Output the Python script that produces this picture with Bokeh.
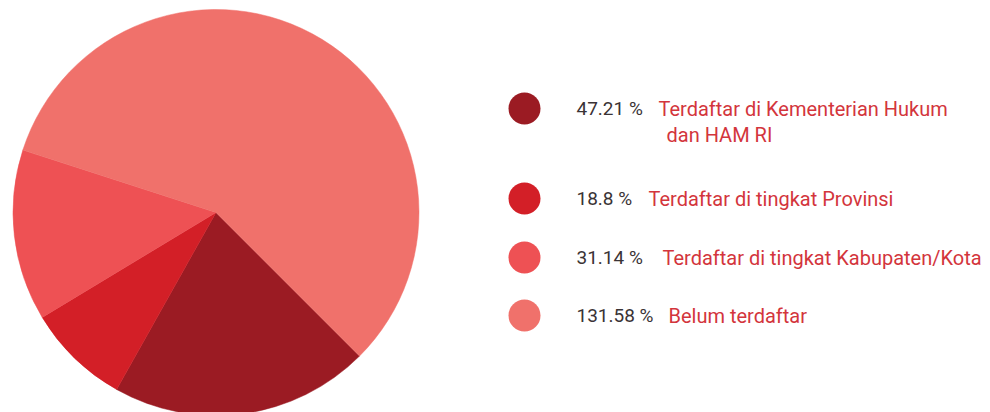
import math
from bokeh.plotting import figure
from bokeh.models import Range1d, ColumnDataSource
from bokeh.core.properties import value
from bokeh.embed import file_html
from bokeh.resources import INLINE

# ---- data ----
values = [47.21, 18.8, 31.14, 131.58]
value_labels = ["47.21 %", "18.8 %", "31.14 %", "131.58 %"]
names = ["Terdaftar di Kementerian Hukum", "Terdaftar di tingkat Provinsi",
         "Terdaftar di tingkat Kabupaten/Kota", "Belum terdaftar"]
name_line2 = ["dan HAM RI", "", "", ""]
colors = ["#9B1B23", "#D31F27", "#EE5154", "#F0716B"]

# ---- layout (page is drawn at 0,0) ----
W, H = 990, 412
def sx(x):
    return x
def sy(y):
    return H - y

cx, cy, R = sx(215.5), sy(212), 203
start_deg = -45.0

total = sum(values)
starts, ends = [], []
cum = 0.0
for v in values:
    a0 = start_deg - 360.0 * cum / total
    cum += v
    a1 = start_deg - 360.0 * cum / total
    starts.append(math.radians(a1))
    ends.append(math.radians(a0))

p = figure(width=W, height=H, x_range=Range1d(0, W), y_range=Range1d(0, H),
           output_backend="svg", toolbar_location=None, min_border=0)
p.axis.visible = False
p.grid.visible = False
p.outline_line_color = None
p.background_fill_color = "white"
p.border_fill_color = "white"

src = ColumnDataSource(dict(x=[cx] * len(values), y=[cy] * len(values),
                            start=starts, end=ends, color=colors))
p.wedge(x="x", y="y", radius=R, start_angle="start", end_angle="end",
        direction="anticlock", fill_color="color", line_color="color",
        line_width=0.5, source=src)

# legend
row_y = [sy(108), sy(198), sy(257), sy(315)]
label_x = [sx(658), sx(648), sx(662), sx(668)]
p.circle(x=[sx(524)] * 4, y=row_y, radius=16, radius_units="screen",
         fill_color=colors, line_color=None)
p.text(x=[sx(576)] * 4, y=row_y, text=value_labels, text_font=value("Roboto"),
       text_font_size="19px", text_color="#3A3335", text_baseline="middle",
       text_align="left")
p.text(x=label_x, y=row_y, text=names, text_font=value("Roboto"),
       text_font_size="20px", text_color="#D3353C", text_baseline="middle",
       text_align="left")
p.text(x=[sx(666)], y=[sy(134)], text=[name_line2[0]], text_font=value("Roboto"),
       text_font_size="20px", text_color="#D3353C", text_baseline="middle",
       text_align="left")

open("out.html", "w").write(file_html(p, INLINE))
